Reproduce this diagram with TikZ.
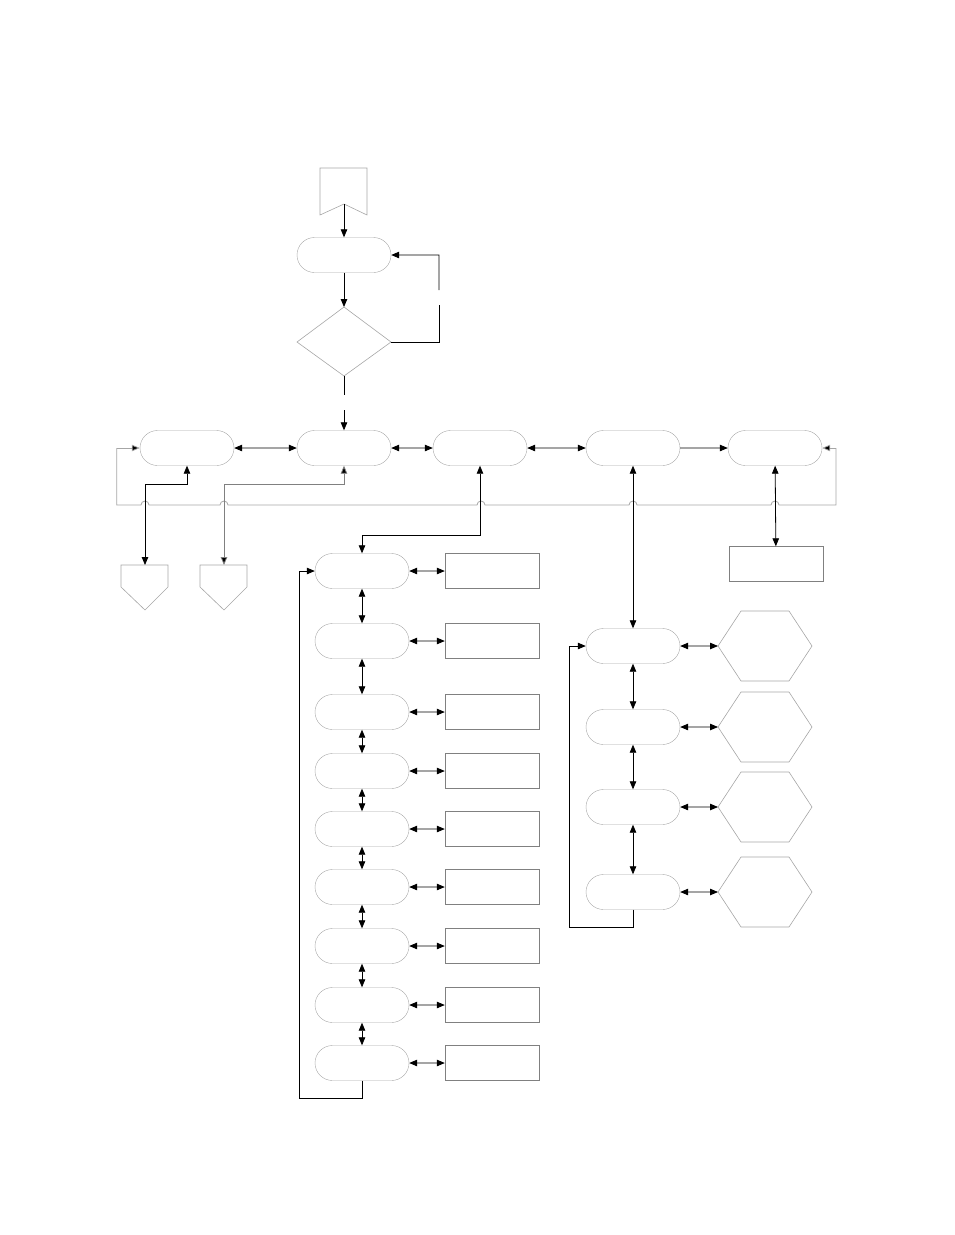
\documentclass[tikz,border=0pt]{standalone}
\usetikzlibrary{shapes.misc,arrows.meta}

\tikzset{etat/.style={draw=gray!70,rounded rectangle,minimum width=94pt,minimum height=35pt,inner sep=0pt},
boite/.style={draw=gray,minimum width=94pt,minimum height=35pt,inner sep=0pt},
fleche/.style={-{Triangle[length=8pt,width=6.5pt]},line width=0.8pt},
double/.style={{Triangle[length=8pt,width=6.5pt]}-{Triangle[length=8pt,width=6.5pt]},line width=0.8pt},
bus/.style={draw=gray!70,line width=0.8pt},
forme/.style={draw=gray!70,line width=0.6pt}}

\begin{document}
\begin{tikzpicture}[x=1pt,y=-1pt]
\useasboundingbox (0,0) rectangle (954,1235);
% depart
\draw[forme] (320,168) -- (367,168) -- (367,215) -- (344,204) -- (320,215) -- cycle;
\coordinate (dep) at (344,204);
\node [etat] (init) at (344,255) {};
\draw[forme] (297,342) -- (344,307) -- (391,342) -- (344,376) -- cycle;
\coordinate (testB) at (344,376);
\coordinate (testR) at (391,342);
\draw[fleche] (dep) -- (init);
\draw[fleche] (init) -- (344,307);
\draw[line width=0.8pt] (testR) -- (439,342) -- (439,305);
\draw[fleche] (439,290) -- (439,255) -- (init);
\draw[line width=0.8pt] (testB) -- (344,395);

% ligne principale
\node [etat] (gauche) at (187,448) {};
\node [etat] (menu) at (344,448) {};
\node [etat] (reglage) at (480,448) {};
\node [etat] (mesure) at (633,448) {};
\node [etat] (fin) at (775,448) {};
\draw[fleche] (344,410) -- (menu);
\draw[double] (gauche) -- (menu);
\draw[double] (menu) -- (reglage);
\draw[double] (reglage) -- (mesure);
\draw[fleche] (mesure) -- (fin);

% bus de retour
\draw[bus] (gauche.west) ++(-23,0) -- ++(0,57)
  -- (141,505) arc (180:360:4) -- (220,505) arc (180:360:4)
  -- (477,505) arc (180:360:4) -- (629,505) arc (180:360:4)
  -- (771,505) arc (180:360:4) -- (836,505) -- (836,448);
\draw[fleche,draw=gray!70,-{Triangle[length=8pt,width=6.5pt,fill=black]}] (117,448) -- (gauche.west);
\draw[fleche,draw=gray!70,-{Triangle[length=8pt,width=6.5pt,fill=black]}] (836,448) -- (fin.east);

% sorties
\draw[forme] (121,565) -- (168,565) -- (168,587) -- (145,610) -- (121,587) -- cycle;
\draw[forme] (200,565) -- (247,565) -- (247,587) -- (224,610) -- (200,587) -- cycle;
\coordinate (sortieA) at (145,565);
\coordinate (sortieB) at (224,565);
\draw[double] (sortieA) -- (145,484) -- (187,484) -- (gauche.south);
\draw[double,draw=gray,{Triangle[length=8pt,width=6.5pt,fill=black]}-{Triangle[length=8pt,width=6.5pt,fill=black]}] (sortieB) -- (224,484) -- (344,484) -- (menu.south);
\node [boite] (info) at (776,564) {};
\draw[double] (fin) -- (info);

% colonne des reglages
\foreach \i/\y in {1/571,2/641,3/712,4/771,5/829,6/887,7/946,8/1005,9/1063}{
  \node [etat] (r\i) at (362,\y) {};
  \node [boite] (v\i) at (492,\y) {};
  \draw[double] (r\i) -- (v\i);
}
\foreach \i [count=\j from 2] in {1,...,8}
  \draw[double] (r\i) -- (r\j);
\draw[double] (reglage.south) -- (480,535) -- (362,535) -- (r1.north);
\draw[fleche] (r9.south) -- (362,1098) -- (299,1098) -- (299,571) -- (r1.west);

% colonne des mesures
\foreach \i/\y in {1/646,2/727,3/807,4/892}{
  \node [etat] (m\i) at (633,\y) {};
  \draw[forme] (718,\y) -- (741,\y-35) -- (789,\y-35) -- (812,\y) -- (789,\y+35) -- (741,\y+35) -- cycle;
  \coordinate (h\i) at (718,\y);
  \draw[double] (m\i) -- (h\i);
}
\foreach \i [count=\j from 2] in {1,2,3}
  \draw[double] (m\i) -- (m\j);
\draw[double] (mesure) -- (m1);
\draw[fleche] (m4.south) -- (633,927) -- (569,927) -- (569,646) -- (m1.west);
\end{tikzpicture}
\end{document}
